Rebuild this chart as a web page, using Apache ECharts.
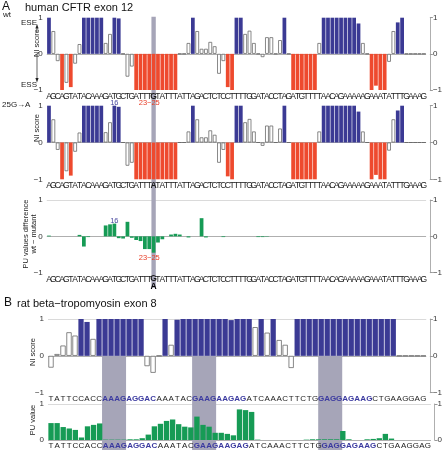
<!DOCTYPE html>
<html><head><meta charset="utf-8">
<script src="https://cdn.jsdelivr.net/npm/echarts@6/dist/echarts.min.js"></script>
<style>html,body{margin:0;padding:0;background:#fff}#c{width:445px;height:450px}</style>
</head><body><div id="c"></div>
<script>
// ---------------- DATA ----------------
const seqA = "AGCAGTATACAAAGATGCTGATTTGTATTTATTAGACTCTCCTTTTGGATACCTAGATGTTTTAACAGAAAAAGAAATATTTGAAAG".split('');
const seqAmut = "AGCAGTATACAAAGATGCTGATTTATATTTATTAGACTCTCCTTTTGGATACCTAGATGTTTTAACAGAAAAAGAAATATTTGAAAG".split('');
const seqB = "TATTCCACCAAAGAGGACAAATACGAAGAAGAGATCAAACTTCTGGAGGAGAAGCTGAAGGAG".split('');

const niWt = [1.0,0.63,-0.2,-1.0,-0.8,-0.92,-0.27,0.27,1,1,
              1,1,1,0.3,0.55,1.0,0.98,0,-0.63,-0.35,
              -1,-1,-1,-1,-1,-1,-1,-1,-1,-1,
              0,0,0.3,1.0,0.63,0.14,0.14,0.33,0.21,-0.55,
              -0.2,-0.92,-1.0,1.0,1.0,0.55,0.64,0.3,0,-0.09,
              0.46,0.46,0,0.38,1.0,0,-1,-1,-1,-1,
              -1,-1,0.3,1,1,1,1,1,1,1,
              1,0.84,0.3,0,-1,-0.88,-1,-1,-0.22,0.63,
              0.87,1.0,0,0,0,0,0];
const niMut = [1.0,0.63,-0.2,-1.0,-0.78,-0.9,-0.25,0.27,1,1,
              1,1,1,0.28,0.55,1.0,0.97,0,-0.63,-0.55,
              -1,-1,-1,-1,-1,-1,-1,-1,-1,-1,
              0,0,0.3,1.0,0.63,0.14,0.14,0.33,0.21,-0.55,
              -0.2,-0.92,-1.0,1.0,1.0,0.55,0.64,0.3,0,-0.09,
              0.46,0.46,0,0.38,1.0,0,-1,-1,-1,-1,
              -1,-1,0.3,1,1,1,1,1,1,1,
              1,0.84,0.3,0,-1,-0.88,-1,-1,-0.22,0.63,
              0.87,1.0,0,0,0,0,0];
const puDiffA = [0.02,0,0,0,0,0,0,0.04,-0.28,-0.02,
                 0,0,0,0.3,0.33,0.35,-0.05,-0.06,0.4,-0.04,
                 -0.1,-0.13,-0.35,-0.35,-0.45,-0.17,-0.08,0,0.05,0.07,
                 0.05,0,-0.03,0,0,0.5,-0.03,0,0,0,
                 -0.02,0,0,0,0,0,0,0,-0.02,-0.02,
                 -0.01,0,0,0,0,0,0,0,0,0,
                 0,0,0,0,0,0,0,0,0,0,
                 0,0,0,0,0,0,0,0,0,0,
                 0,0,0,0,0,0,0];
const niB = [-0.32,0.05,0.28,0.64,0.55,1.0,0.92,0.46,1,1,
             1,1,1,1,1,1,-0.28,-0.46,0,1.0,
             0.3,0.98,1,1,1,1,1,1,1,1,
             0.97,1,1,1,0.78,1,0.63,1,0.43,0.3,
             -0.33,1,1,1,1,1,1,1,1,1,
             1,1,1,1,1,1,1,1,0,0,
             0,0,0];
const puB = [0.47,0.47,0.36,0.32,0.28,0.07,0.38,0.42,0.46,0.01,
             0.01,0.01,0.01,0.02,0.02,0.05,0.15,0.38,0.45,0.53,
             0.57,0.44,0.37,0.35,0.65,0.42,0.37,0.2,0.2,0.17,
             0.13,0.85,0.83,0.78,0.01,0,0,0,0,0,
             0,0,0.01,0.02,0.02,0.02,0.02,0.02,0.25,0.02,
             0,0,0.02,0.03,0.05,0.17,0.04,0,0,0,
             0,0,0];
const bandA = 24;                       // mutated base (25G)
const bandsB = [[9,12],[24,27],[45,48]];
const blueB = [[9,17],[24,32],[45,53]];
const lbl16 = 15, lbl2325 = [22,24];

// ---------------- STYLE ----------------
const BLUE = '#3b3a94', RED = '#ee4a2e', GREEN = '#169b55', BAND = '#a6a5b8';
const FONT = 'Liberation Sans, Arial, Helvetica, sans-serif';
const NARROW = 'Liberation Sans Narrow, Liberation Sans, Arial, sans-serif';

const chart = echarts.init(document.getElementById('c'), null, {renderer:'canvas'});

const gridsPx = [
  {left:46.8, width:384.4, top:17.7, height:72.3},
  {left:46.8, width:384.4, top:105.7, height:73.6},
  {left:46.8, width:384.4, top:200, height:72.7},
  {left:48, width:383.4, top:319, height:73.7},
  {left:48, width:383.4, top:404, height:37.7}
];

function niItems(arr){
  return arr.map(v => {
    if (v >= 0.8) return {value:v, itemStyle:{color:BLUE}};
    if (v <= -0.85) return {value:v, itemStyle:{color:RED}};
    return {value:v, itemStyle:{color:'#fff', borderColor:'#6a6a6a', borderWidth:0.8}};
  });
}

function xAx(g, data, fs, fam, extra){
  return Object.assign({
    type:'category', gridIndex:g, data:data, boundaryGap:true, z:6,
    axisLine:{show:false, onZero:false}, axisTick:{show:false}, splitLine:{show:false},
    axisLabel:{interval:0, margin:2, fontSize:fs, fontFamily:fam, color:'#1a1a1a'}
  }, extra||{});
}
function yLeft(g, min, max, topLine){
  const T = 'rgba(0,0,0,0)';
  const top = topLine ? '#d0d0d0' : T;
  return {type:'value', gridIndex:g, position:'left', min:min, max:max, interval:1,
    axisLine:{show:false}, axisTick:{show:false},
    axisLabel:{fontSize:8, fontFamily:FONT, color:'#333', margin:4,
      formatter:v => v<0 ? '−'+Math.abs(v) : String(v)},
    splitLine:{show:true, lineStyle:{color: min<0 ? [T,'#9a9a9a',top] : ['#9a9a9a',top], width:0.8}}};
}
function yRight(g, min, max, off){
  return {type:'value', gridIndex:g, position:'right', offset:off, min:min, max:max, interval:1,
    axisLine:{show:true, lineStyle:{color:'#9a9a9a', width:0.8}},
    axisTick:{show:true, inside:false, length:3, lineStyle:{color:'#9a9a9a'}},
    axisLabel:{fontSize:8, fontFamily:FONT, color:'#333', margin:3,
      formatter:v => v<0 ? '−'+Math.abs(v) : String(v)},
    splitLine:{show:false}};
}

const xBdata = seqB.map((c,i) => {
  const blue = blueB.some(r => i>=r[0] && i<=r[1]);
  return blue ? {value:c, textStyle:{color:'#3b3aa0', fontWeight:'bold'}} : c;
});
const xAwt = seqA.map((c,i)=> i===bandA ? {value:c, textStyle:{fontWeight:'bold'}} : c);
const xAmut = seqAmut.map((c,i)=> i===bandA ? {value:c, textStyle:{fontWeight:'bold'}} : c);

const option = {
  animation:false,
  backgroundColor:'#fff',
  grid: gridsPx.map(g => Object.assign({containLabel:false}, g)),
  xAxis:[
    xAx(0, xAwt, 8.5, NARROW),
    xAx(1, xAmut, 8.5, NARROW),
    xAx(2, seqA, 8.5, NARROW, {axisLabel:{interval:0, margin:2, fontSize:8.5, fontFamily:NARROW, color:'#1a1a1a',
        formatter:(v,i)=> i===bandA ? '{g|G}\n{a|A}' : v,
        rich:{g:{fontSize:8.5, fontFamily:NARROW, fontWeight:'bold', color:'#1a1a1a', lineHeight:8},
              a:{fontSize:8.5, fontFamily:NARROW, fontWeight:'bold', color:'#000', lineHeight:8}}}}),
    xAx(3, xBdata, 8, FONT),
    xAx(4, xBdata, 8, FONT)
  ],
  yAxis:[
    yLeft(0,-1,1,false), yRight(0,-1,1,3.8),
    yLeft(1,-1,1,false), yRight(1,-1,1,3.8),
    yLeft(2,-1,1,true), yRight(2,-1,1,3.8),
    yLeft(3,-1,1,true), yRight(3,-1,1,3.6),
    yLeft(4,0,1,true), yRight(4,0,1,3.6)
  ],
  series:[
    {type:'bar', xAxisIndex:0, yAxisIndex:0, data:niItems(niWt), barCategoryGap:'14%', z:3},
    {type:'bar', xAxisIndex:1, yAxisIndex:2, data:niItems(niMut), barCategoryGap:'14%', z:3},
    {type:'bar', xAxisIndex:2, yAxisIndex:4, data:puDiffA, barCategoryGap:'14%', itemStyle:{color:GREEN}, z:3},
    {type:'bar', xAxisIndex:3, yAxisIndex:6, data:niItems(niB), barCategoryGap:'12%', z:3},
    {type:'bar', xAxisIndex:4, yAxisIndex:8, data:puB, barCategoryGap:'12%', itemStyle:{color:GREEN}, z:3}
  ]
};
chart.setOption(option);

// -------- overlays positioned through the chart's own scales --------
function P(g, x, y){ return chart.convertToPixel({gridIndex:g}, [x, y]); }
const gr = [];
// panel A mutation band
{
  const a = P(0, bandA, 1), b = P(0, bandA+1, 1);
  const w = b[0]-a[0];
  const bot = P(2, bandA, -1)[1] + 15;
  gr.push({type:'rect', shape:{x:a[0]-w/2, y:a[1]-1, width:w, height:bot-a[1]+1}, style:{fill:BAND}, z:1, silent:true});
}
// panel B bands
bandsB.forEach(r => {
  const a = P(3, r[0], 0), b = P(3, r[1], 0);
  const w = (P(3, r[0]+1, 0)[0] - a[0]);
  gr.push({type:'rect', shape:{x:a[0]-w/2, y:a[1], width:b[0]-a[0]+w, height:450-a[1]}, style:{fill:BAND}, z:1, silent:true});
});
// position labels
{
  const p16 = P(0, lbl16, -1), p23 = P(0, lbl2325[0], -1), p25 = P(0, lbl2325[1], -1);
  gr.push({type:'text', x:p16[0], y:p16[1]+8.5, style:{text:'16', fill:'#4a4aa0', font:'7.5px '+FONT, textAlign:'center'}, z:5});
  gr.push({type:'text', x:(p23[0]+p25[0])/2, y:p23[1]+8.5, style:{text:'23−25', fill:'#e8402a', font:'7.5px '+FONT, textAlign:'center'}, z:5});
  const q16 = P(2, lbl16, puDiffA[lbl16]);
  gr.push({type:'text', x:q16[0], y:q16[1]-7, style:{text:'16', fill:'#4a4aa0', font:'7.5px '+FONT, textAlign:'center'}, z:5});
  const q23 = P(2, lbl2325[0], 0), q25 = P(2, lbl2325[1], puDiffA[lbl2325[1]]);
  gr.push({type:'text', x:(q23[0]+q25[0])/2, y:q25[1]+1.5, style:{text:'23−25', fill:'#e8402a', font:'7.5px '+FONT, textAlign:'center'}, z:5});
}
// titles and axis captions
gr.push({type:'text', x:2, y:1, style:{text:'A', font:'12px '+FONT, fill:'#111'}});
gr.push({type:'text', x:25, y:2, style:{text:'human CFTR exon 12', font:'11px '+FONT, fill:'#111'}});
gr.push({type:'text', x:4, y:297, style:{text:'B', font:'12px '+FONT, fill:'#111'}});
gr.push({type:'text', x:17, y:298, style:{text:'rat beta−tropomyosin exon 8', font:'11px '+FONT, fill:'#111'}});
gr.push({type:'text', x:3, y:11, style:{text:'wt', font:'8px '+FONT, fill:'#222'}});
gr.push({type:'text', x:2, y:101, style:{text:'25G→A', font:'8px '+FONT, fill:'#222'}});
gr.push({type:'text', x:21, y:19, style:{text:'ESE', font:'8px '+FONT, fill:'#222'}});
gr.push({type:'text', x:21, y:81, style:{text:'ESS', font:'8px '+FONT, fill:'#222'}});
// rotated captions
function rot(x, y, t, fs){
  gr.push({type:'text', x:x, y:y, rotation:Math.PI/2, style:{text:t, font:fs+'px '+FONT, fill:'#222', textAlign:'center', textVerticalAlign:'middle', lineHeight:fs+1}});
}
rot(37, 43, 'NI score', 7.5);
rot(37, 128, 'NI score', 7.5);
rot(30, 234, 'PU values difference\nwt − mutant', 7.5);
rot(33, 352, 'NI score', 7.5);
rot(33, 420, 'PU value', 7.5);
// arrows beside NI score (panel A wt)
gr.push({type:'line', shape:{x1:37, y1:27, x2:37, y2:32}, style:{stroke:'#222', lineWidth:0.7}});
gr.push({type:'polygon', shape:{points:[[35.4,28.5],[38.6,28.5],[37,24]]}, style:{fill:'#222'}});
gr.push({type:'line', shape:{x1:37, y1:54, x2:37, y2:79}, style:{stroke:'#222', lineWidth:0.7}});
gr.push({type:'polygon', shape:{points:[[35.4,78],[38.6,78],[37,82.5]]}, style:{fill:'#222'}});

chart.setOption({graphic: gr});
</script></body></html>
